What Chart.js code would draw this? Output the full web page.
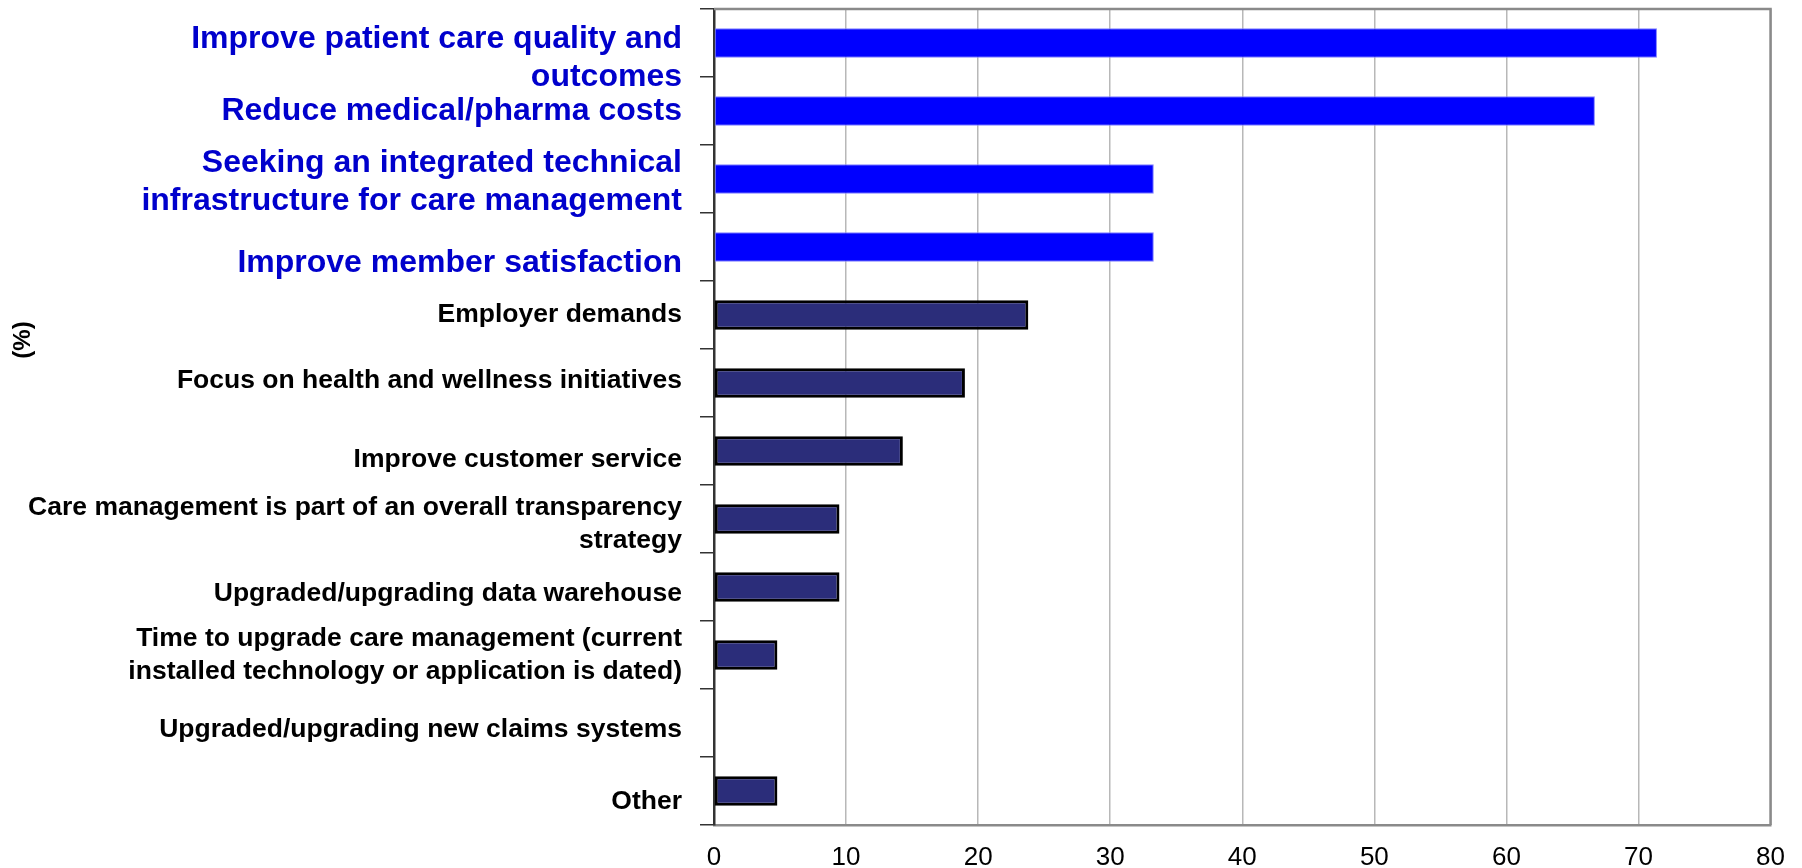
<!DOCTYPE html>
<html>
<head>
<meta charset="utf-8">
<title>Care management drivers</title>
<script src="https://cdn.jsdelivr.net/npm/chart.js@4/dist/chart.umd.min.js"></script>
<style>
  html, body { margin: 0; padding: 0; background: #fff; }
  #wrap { width: 1802px; height: 868px; }
</style>
</head>
<body>
<div id="wrap"><canvas id="drivers"></canvas></div>
<script>
// Categories, top to bottom (multi-line labels as arrays)
const drivers = [
  ["Improve patient care quality and", "outcomes"],
  "Reduce medical/pharma costs",
  ["Seeking an integrated technical", "infrastructure for care management"],
  "Improve member satisfaction",
  "Employer demands",
  "Focus on health and wellness initiatives",
  "Improve customer service",
  ["Care management is part of an overall transparency", "strategy"],
  "Upgraded/upgrading data warehouse",
  ["Time to upgrade care management (current", "installed technology or application is dated)"],
  "Upgraded/upgrading new claims systems",
  "Other"
];
// Share of respondents (%)
const shares = [71.4, 66.7, 33.3, 33.3, 23.8, 19.0, 14.3, 9.5, 9.5, 4.8, 0, 4.8];
// x axis ticks
const xTicks = [0, 10, 20, 30, 40, 50, 60, 70, 80];
// number of leading categories shown as the main drivers
const mainDrivers = 4;

// small vertical shifts for the category labels (px), like the old spreadsheet layout
const labelNudge = [15, 0, 3, 16, 0, -2, 9, 5, 7, 0, 7, 11];

const isMain = i => i < mainDrivers;

// plot frame: grey top and right edge
const frame = {
  id: "frame",
  beforeDatasetsDraw(chart) {
    const { ctx, chartArea: a } = chart;
    ctx.save();
    ctx.strokeStyle = "#8a8a8a";
    ctx.lineWidth = 2.5;
    ctx.beginPath();
    ctx.moveTo(a.left, a.top);
    ctx.lineTo(a.right, a.top);
    ctx.lineTo(a.right, a.bottom);
    ctx.stroke();
    ctx.restore();
  }
};

// shift y labels before the scale paints them
const nudgeLabels = {
  id: "nudgeLabels",
  beforeDraw(chart) {
    const items = chart.scales.y.getLabelItems(chart.chartArea);
    items.forEach((item, i) => {
      if (item._nudged) return;
      item.options.translation[1] += labelNudge[i] || 0;
      item._nudged = true;
    });
  }
};

// rotated "(%)" title on the left
const sideTitle = {
  id: "sideTitle",
  afterDraw(chart) {
    const ctx = chart.ctx;
    ctx.save();
    ctx.translate(23, 340);
    ctx.rotate(-Math.PI / 2);
    ctx.font = "bold 24px 'Liberation Sans', Arial, sans-serif";
    ctx.fillStyle = "#000";
    ctx.textAlign = "center";
    ctx.textBaseline = "middle";
    ctx.fillText("(%)", 0, 0);
    ctx.restore();
  }
};

Chart.defaults.font.family = "'Liberation Sans', Arial, sans-serif";

new Chart(document.getElementById("drivers"), {
  type: "bar",
  data: {
    labels: drivers,
    datasets: [{
      data: shares,
      backgroundColor: c => isMain(c.dataIndex) ? "#0000ff" : "#2b2d7a",
      borderColor: c => isMain(c.dataIndex) ? "#8080ff" : "#000",
      borderWidth: c => isMain(c.dataIndex) ? 1 : 3,
      borderSkipped: false,
      categoryPercentage: 1,
      barPercentage: 0.435
    }]
  },
  options: {
    indexAxis: "y",
    responsive: true,
    maintainAspectRatio: false,
    animation: false,
    events: [],
    layout: { padding: { top: 9, right: 31, bottom: 0, left: 0 } },
    plugins: { legend: { display: false }, tooltip: { enabled: false } },
    scales: {
      x: {
        min: xTicks[0],
        max: xTicks[xTicks.length - 1],
        afterBuildTicks(scale) { scale.ticks = xTicks.map(v => ({ value: v })); },
        afterFit(scale) { scale.height = 43; },
        ticks: { padding: 17, color: "#000", font: { size: 26 } },
        grid: { color: "#b8b8b8", lineWidth: 1.5, drawTicks: false },
        border: { color: "#8a8a8a", width: 2.5 }
      },
      y: {
        afterFit(scale) {
          scale.width = 714;
          scale.paddingTop = 0;
          scale.paddingBottom = 0;
        },
        ticks: {
          autoSkip: false,
          padding: 18,
          color: c => isMain(c.index) ? "#0000cc" : "#000",
          font: c => isMain(c.index)
            ? { size: 32, weight: "bold", lineHeight: 1.2 }
            : { size: 26.5, weight: "bold", lineHeight: 1.25 }
        },
        grid: { drawOnChartArea: false, tickLength: 14, color: "#333", lineWidth: 1.5, offset: true },
        border: { color: "#333", width: 2.5 }
      }
    }
  },
  plugins: [frame, nudgeLabels, sideTitle]
});
</script>
</body>
</html>
